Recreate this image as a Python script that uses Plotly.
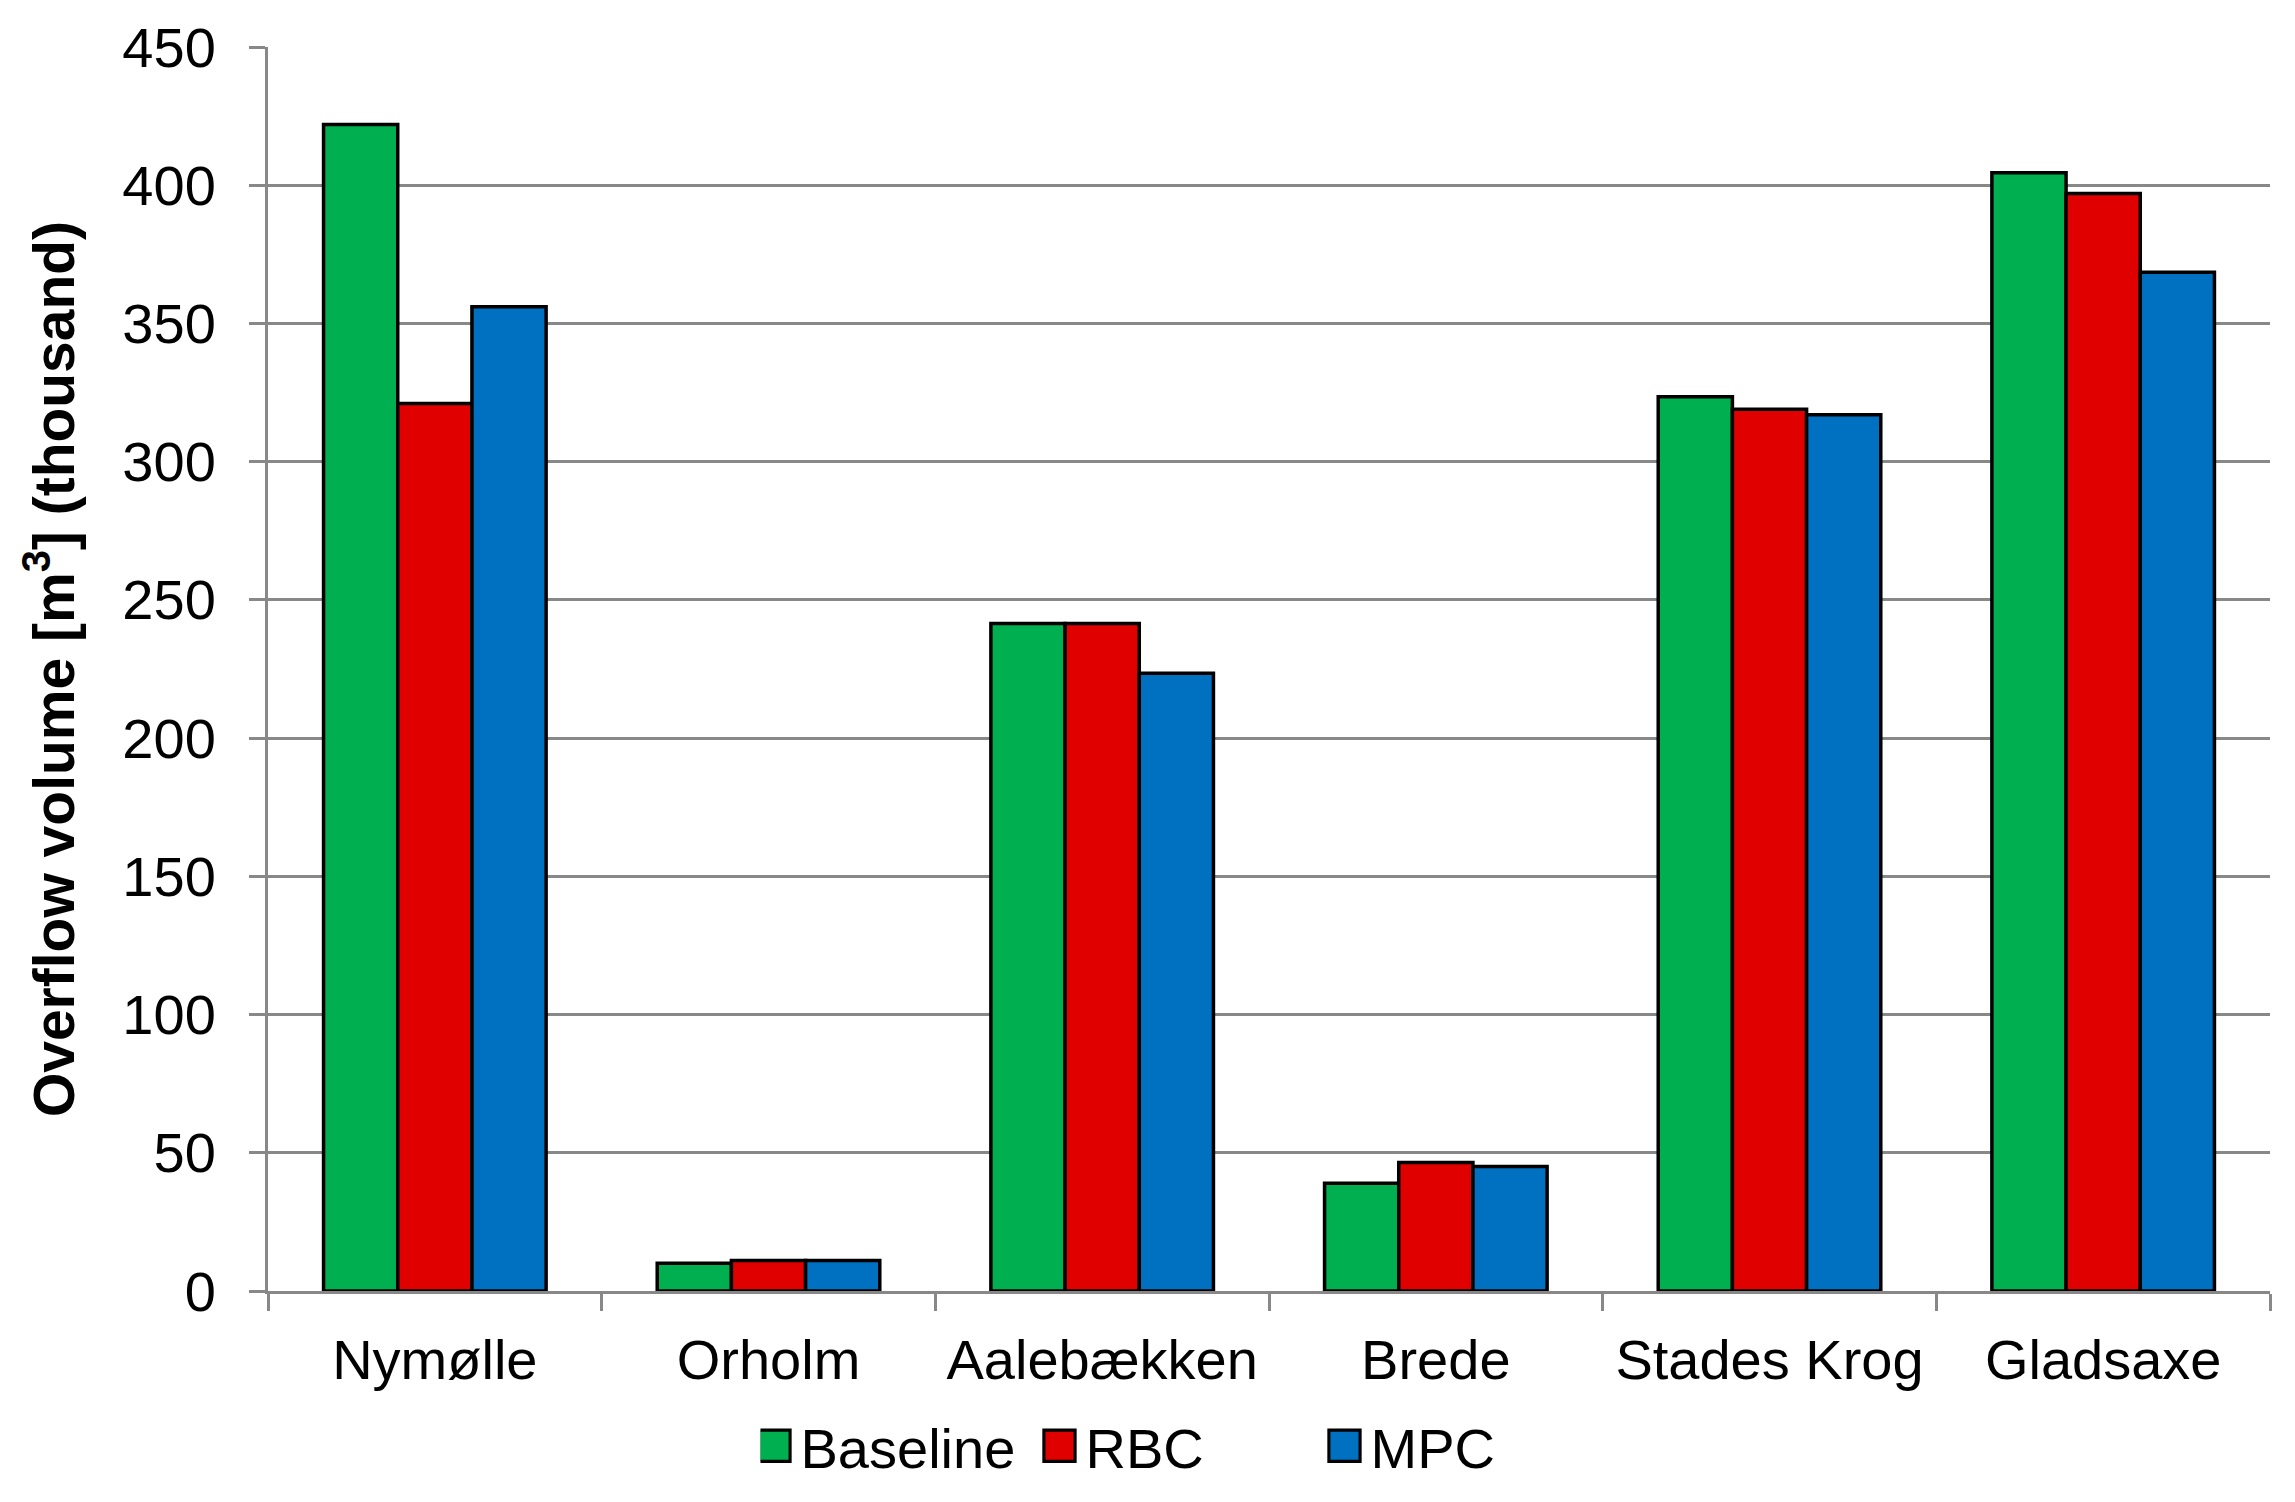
import plotly.graph_objects as go

categories = ["Nymølle", "Orholm", "Aalebækken", "Brede", "Stades Krog", "Gladsaxe"]
baseline = [422, 10, 241.5, 39, 323.5, 404.5]
rbc = [321, 11, 241.5, 46.5, 319, 397]
mpc = [356, 11, 223.5, 45, 317, 368.5]

series_names = ["Baseline", "RBC", "MPC"]
series_colors = ["#00B050", "#E00000", "#0070C0"]
y_ticks = [0, 50, 100, 150, 200, 250, 300, 350, 400, 450]

GRAY = "#888888"
FONT = "Liberation Sans, Arial, sans-serif"

fig = go.Figure()
for name, vals, col in zip(series_names, [baseline, rbc, mpc], series_colors):
    fig.add_trace(go.Bar(
        x=categories, y=vals, name=name,
        marker=dict(color=col, line=dict(color="black", width=3.5)),
    ))

fig.update_layout(
    width=2295, height=1502,
    margin=dict(l=268, r=25, t=47, b=211),
    paper_bgcolor="white", plot_bgcolor="white",
    barmode="group", bargap=0.333, bargroupgap=0,
    font=dict(family=FONT, size=56, color="black"),
    showlegend=True,
    legend=dict(
        orientation="h", x=0.246, xanchor="left", y=-0.1245, yanchor="middle",
        font=dict(size=56), entrywidth=240, entrywidthmode="pixels",
        bgcolor="rgba(0,0,0,0)", traceorder="normal",
    ),
    xaxis=dict(
        type="category", tickson="boundaries", ticks="outside", ticklen=17,
        tickwidth=3, tickcolor=GRAY, showline=True, linecolor=GRAY, linewidth=3,
        showgrid=False, tickfont=dict(size=56), ticklabelstandoff=18,
    ),
    yaxis=dict(
        range=[0, 450], tickvals=y_ticks, ticks="outside", ticklen=16, tickwidth=3,
        tickcolor=GRAY, showline=True, linecolor=GRAY, linewidth=3,
        showgrid=True, gridcolor=GRAY, gridwidth=3, zeroline=False,
        tickfont=dict(size=56), ticklabelstandoff=22,
        title=dict(text="<b>Overflow volume [m<sup>3</sup>] (thousand)</b>",
                   font=dict(size=57), standoff=30),
    ),
)

post = """
document.body.style.margin='0';
document.querySelectorAll('.legendpoints path').forEach(function(p){
  var t = p.getAttribute('transform') || '';
  p.setAttribute('transform', t + ' translate(-6,0) scale(2.6)');
  p.style.strokeWidth = '1.2px';
});
"""
fig.write_html("out.html", post_script=post, config={"displayModeBar": False})
